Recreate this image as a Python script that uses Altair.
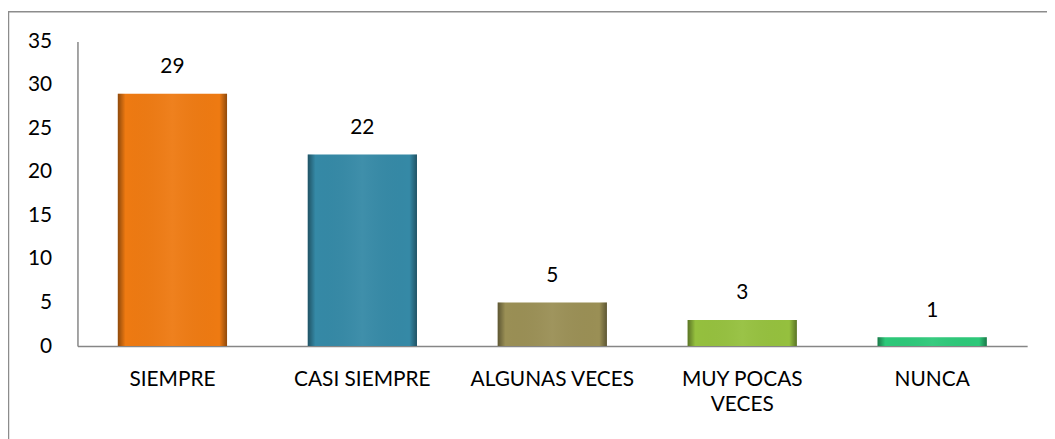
import altair as alt
import pandas as pd

categories = ["SIEMPRE", "CASI SIEMPRE", "ALGUNAS VECES", "MUY POCAS VECES", "NUNCA"]
values = [29, 22, 5, 3, 1]
colors = ["#EE7A12", "#3589A6", "#9A8F55", "#95C03E", "#2DC879"]

df = pd.DataFrame({"cat": categories, "val": values})
FONT = "Lato"

x = alt.X("cat:N", sort=categories, title=None,
          scale=alt.Scale(paddingInner=0.425, paddingOuter=0.2125),
          axis=alt.Axis(labelAngle=0, labelFont=FONT, labelFontSize=21, labelColor="#000000",
                        labelPadding=23, ticks=False, domainColor="#868686", domainWidth=1.5,
                        labelLineHeight=25,
                        labelExpr="datum.label == 'MUY POCAS VECES' ? ['MUY POCAS', 'VECES'] : datum.label"))
y = alt.Y("val:Q", title=None,
          scale=alt.Scale(domain=[0, 35]),
          axis=alt.Axis(values=[0, 5, 10, 15, 20, 25, 30, 35], grid=False, ticks=False,
                        labelFont=FONT, labelFontSize=21, labelColor="#000000", labelPadding=26,
                        domainColor="#868686", domainWidth=1.5))

base = alt.Chart(df)

bars = base.mark_bar().encode(
    x=x, y=y,
    color=alt.Color("cat:N", sort=categories, legend=None,
                    scale=alt.Scale(domain=categories, range=colors)),
)

shade = base.mark_bar(color=alt.Gradient(
    gradient="linear", x1=0, x2=1, y1=0, y2=0,
    stops=[alt.GradientStop(color="rgba(0,0,0,0.4)", offset=0),
           alt.GradientStop(color="rgba(0,0,0,0.0)", offset=0.07),
           alt.GradientStop(color="rgba(255,255,255,0.05)", offset=0.5),
           alt.GradientStop(color="rgba(0,0,0,0.0)", offset=0.93),
           alt.GradientStop(color="rgba(0,0,0,0.4)", offset=1)])).encode(x=x, y=y)

labels = base.mark_text(font=FONT, fontSize=21, color="#000000", baseline="alphabetic", dy=-21).encode(
    x=x, y=y, text="val:Q")

border = alt.Chart(pd.DataFrame({"b": [0]})).mark_rect(
    fill=None, stroke="#8c8c8c", strokeWidth=1.5).encode(
    x=alt.value(-69.5), x2=alt.value(1000), y=alt.value(-30), y2=alt.value(420))

chart = alt.layer(border, bars, shade, labels).properties(
    width=957, height=307,
    autosize=alt.AutoSizeParams(type="none"),
    padding={"left": 70, "top": 32, "right": 20, "bottom": 92},
).configure_view(stroke=None)

chart.save("out.html", embed_options={"renderer": "svg", "actions": False})
